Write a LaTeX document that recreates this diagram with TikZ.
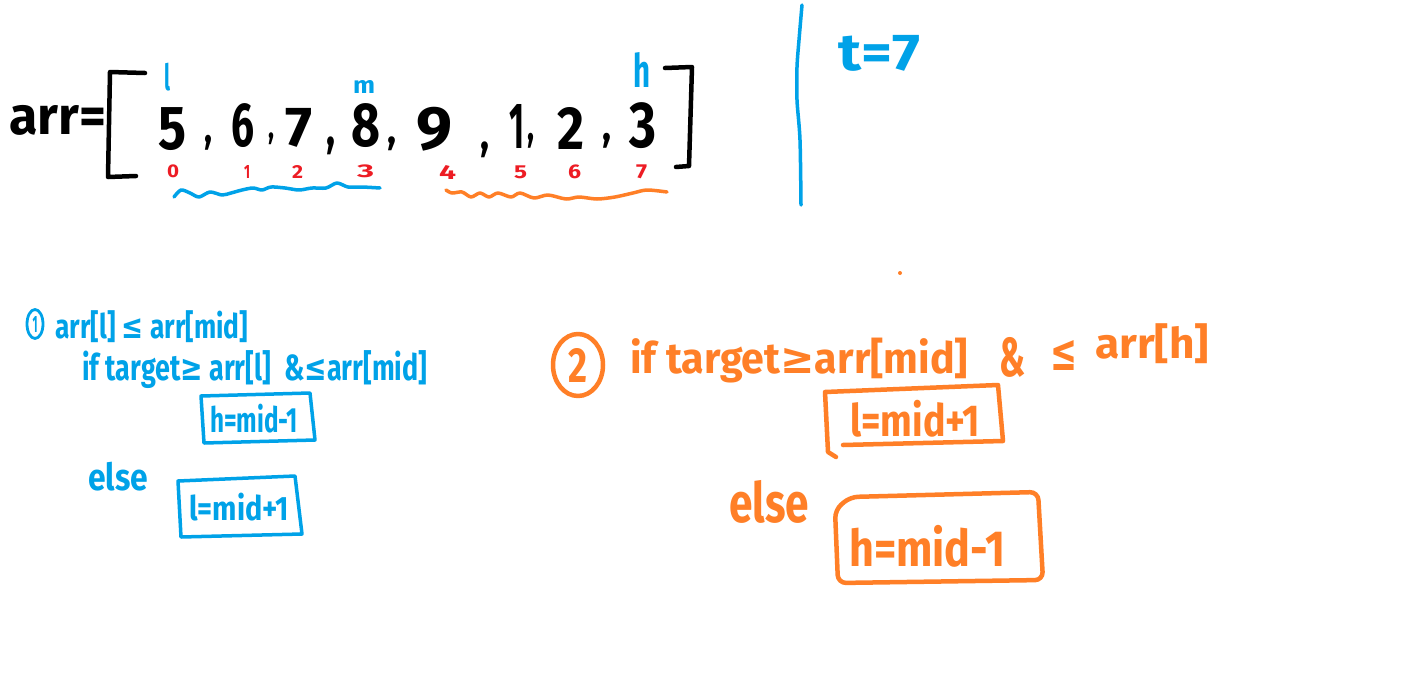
\documentclass[tikz,border=0pt]{standalone}
\usepackage{fontspec}
\setmainfont{Fira Sans}
\newfontfamily\symf{DejaVu Sans}
\usepackage{graphicx}
\usetikzlibrary{shapes.geometric}
\definecolor{hblue}{HTML}{00A2E8}
\definecolor{horange}{HTML}{FF7F27}
\definecolor{hred}{HTML}{ED1C24}
\newcommand{\fitt}[3]{\resizebox*{#1pt}{#2pt}{#3}}
\begin{document}
\begin{tikzpicture}[x=1pt,y=-1pt,line cap=round,line join=round,
  txt/.style={inner sep=0pt,anchor=north west,font=\bfseries},
  bpen/.style={draw=hblue,line width=3.5pt},
  open/.style={draw=horange,line width=4.5pt},
  kpen/.style={draw=black,line width=4.5pt},
  redidx/.style={txt,text=hred},
  btxt/.style={txt,text=hblue},
  otxt/.style={txt,text=horange}]
\useasboundingbox[fill=white] (0,0) rectangle (1416,672);

% array
\node[txt] (arr) at (9,105) {\fitt{97}{30}{arr=}};
\draw[kpen] (145,73) -- (110,72) -- (108,177) -- (136,176);
\draw[kpen] (665,68) -- (692,67) -- (689,166) -- (676,167);

\node[txt] (d0) at (158,107) {\fitt{28}{43}{5}};
\node[txt] (d1) at (231,103) {\fitt{23}{44}{6}};
\node[txt] (d2) at (285,108) {\fitt{27}{39}{7}};
\node[txt] (d3) at (351,103) {\fitt{29}{44}{8}};
\node[txt] (d4) at (416,107) {\fitt{36}{44}{9}};
\node[txt] (d5) at (509,104) {\fitt{15}{44}{1}};
\node[txt] (d6) at (557,107) {\fitt{27}{42}{2}};
\node[txt] (d7) at (629,102) {\fitt{27}{46}{3}};

\node[txt] (k0) at (204,135) {\fitt{8}{15}{,}};
\node[txt] (k1) at (268,133) {\fitt{6}{12}{,}};
\node[txt] (k2) at (326,137) {\fitt{9}{18}{,}};
\node[txt] (k3) at (387,137) {\fitt{9}{14}{,}};
\node[txt] (k4) at (480,142) {\fitt{9}{16}{,}};
\node[txt] (k5) at (527,133) {\fitt{7}{15}{,}};
\node[txt] (k6) at (602,133) {\fitt{9}{15}{,}};

\node[btxt] (pl) at (164,63) {\fitt{6}{28}{l}};
\node[btxt] (pm) at (353,80) {\fitt{22}{13}{m}};
\node[btxt] (ph) at (633,52) {\fitt{17}{35}{h}};

\node[redidx] (i0) at (167,165) {\fitt{12}{13}{0}};
\node[redidx] (i1) at (244,165) {\fitt{6}{13}{1}};
\node[redidx] (i2) at (292,165) {\fitt{11}{13}{2}};
\node[redidx] (i3) at (357,165) {\fitt{17}{13}{3}};
\node[redidx] (i4) at (439,165) {\fitt{17}{14}{4}};
\node[redidx] (i5) at (514,166) {\fitt{13}{13}{5}};
\node[redidx] (i6) at (568,165) {\fitt{13}{14}{6}};
\node[redidx] (i7) at (636,165) {\fitt{11}{14}{7}};

\draw[bpen] plot[smooth] coordinates {(174,197) (181,190) (190,193) (199,197) (210,192) (222,195) (231,193) (242,190) (253,188) (262,190) (271,187) (285,188) (299,190) (312,188) (326,188) (337,183) (348,187) (362,187) (380,188)};
\draw[open,line width=3.5pt] plot[smooth] coordinates {(446,190) (452,193) (462,192) (471,197) (480,193) (489,197) (498,193) (511,197) (520,193) (534,198) (548,195) (566,199) (579,197) (597,199) (615,197) (633,193) (647,190) (667,192)};

% divider and t=7
\draw[bpen] plot[smooth] coordinates {(802,5) (799,40) (797,67) (797,100) (800,140) (801,205)};
\node[btxt] (t7) at (838,35) {\fitt{82}{36}{t=7}};
\fill[horange] (900,273) circle (2);

% blue case
\node[ellipse,draw=hblue,line width=2.8pt,minimum width=16pt,minimum height=29pt,inner sep=0pt,text=hblue,font=\bfseries] (c1) at (35,324) {\fitt{5}{16}{1}};
\node[btxt] (b1) at (55,310) {\fitt{193}{32}{arr[l] {\symf ≤} arr[mid]}};
\node[btxt] (b2) at (82,350) {\fitt{345}{38}{if target{\symf ≥} arr[l] \ \&{\symf ≤}arr[mid]}};
\draw[bpen] (201,396) -- (310,393) -- (315,440) -- (204,443) -- cycle;
\node[btxt] (bh) at (210,404) {\fitt{88}{29}{h=mid-1}};
\node[btxt] (be) at (88,462) {\fitt{60}{29}{else}};
\draw[bpen] (178,481) -- (295,476) -- (302,534) -- (181,537) -- cycle;
\node[btxt] (bl) at (189,493) {\fitt{100}{28}{l=mid+1}};

% orange case
\node[ellipse,draw=horange,line width=4.5pt,minimum width=50pt,minimum height=62pt,inner sep=0pt,text=horange,font=\bfseries] (c2) at (578,365) {\fitt{19}{34}{2}};
\node[otxt] (o1) at (630,338) {\fitt{338}{45}{if target{\symf ≥}arr[mid]}};
\node[otxt] (o2) at (999,337) {\fitt{26}{40}{\&}};
\node[otxt] (o3) at (1050,340) {\fitt{27}{30}{\symf\bfseries ≤}};
\node[otxt] (o4) at (1095,323) {\fitt{114}{40}{arr[h]}};
\draw[open] (843,445) -- (1003,441) -- (998,385) -- (825,392) -- (828,452) -- (836,457);
\node[otxt] (ol) at (850,400) {\fitt{130}{37}{l=mid+1}};
\node[otxt] (oe) at (729,480) {\fitt{80}{43}{else}};
\draw[open,rounded corners=8pt] (850,497) -- (1038,492) -- (1043,580) -- (838,583) -- (835,510) -- cycle;
\node[otxt] (oh) at (849,525) {\fitt{156}{42}{h=mid-1}};
\end{tikzpicture}
\end{document}
